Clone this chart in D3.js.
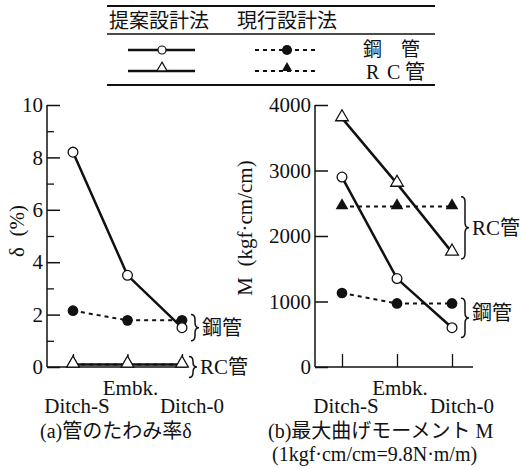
<!DOCTYPE html>
<html>
<head>
<meta charset="utf-8">
<script src="https://cdn.jsdelivr.net/npm/d3@7"></script>
<style>
  body { margin: 0; background: #fff; }
  text { font-family: "Liberation Serif", "Noto Sans CJK JP", serif; fill: #111; }
  text.cjk { font-family: "Noto Sans CJK JP", sans-serif; }
</style>
</head>
<body>
<script>
// categories (x axis)
var categories = ["Ditch-S", "Embk.", "Ditch-0"];

// (a) pipe deflection ratio delta (%)
var deltaSteelNew = [8.2, 3.5, 1.5];     // 提案設計法 鋼管
var deltaSteelOld = [2.15, 1.78, 1.78];  // 現行設計法 鋼管
var deltaRcNew = [0.1, 0.1, 0.1];        // 提案設計法 RC管
var deltaRcOld = [0.1, 0.1, 0.1];        // 現行設計法 RC管

// (b) max bending moment M (kgf·cm/cm)
var momentSteelNew = [2900, 1350, 600];
var momentSteelOld = [1130, 970, 970];
var momentRcNew = [3800, 2800, 1750];
var momentRcOld = [2450, 2450, 2450];

var deltaTicks = [0, 2, 4, 6, 8, 10];
var deltaMinorTicks = [1, 3, 5, 7, 9];
var momentTicks = [0, 1000, 2000, 3000, 4000];

var width = 521, height = 469;
var SERIF = "'Liberation Serif', 'Noto Sans CJK JP', serif";

var svg = d3.select("body").append("svg")
    .attr("width", width)
    .attr("height", height);

// ---------- legend table on top ----------
var leg = svg.append("g");
[6, 34, 85].forEach(function(y, i) {
    leg.append("line")
        .attr("x1", 107).attr("x2", 435)
        .attr("y1", y).attr("y2", y)
        .attr("stroke", "#111")
        .attr("stroke-width", i == 1 ? 1.3 : 1.8);
});
leg.append("text").attr("class", "cjk").attr("x", 109).attr("y", 28)
    .attr("font-size", 20).text("提案設計法");
leg.append("text").attr("class", "cjk").attr("x", 237).attr("y", 28)
    .attr("font-size", 20).text("現行設計法");

function legendRow(y, shape) {
    leg.append("line").attr("x1", 128).attr("x2", 195).attr("y1", y).attr("y2", y)
        .attr("stroke", "#111").attr("stroke-width", 2.5);
    leg.append("line").attr("x1", 255).attr("x2", 317).attr("y1", y).attr("y2", y)
        .attr("stroke", "#111").attr("stroke-width", 2).attr("stroke-dasharray", "4,4");
    var tri = shape == d3.symbolTriangle;
    var sym = d3.symbol().type(shape);
    var dy = tri ? -3 : 0;
    leg.append("path").attr("d", sym.size(tri ? 45 : 50)())
        .attr("transform", "translate(162," + (y + dy) + ")")
        .attr("fill", "#fff").attr("stroke", "#111").attr("stroke-width", 1.2);
    leg.append("path").attr("d", sym.size(tri ? 45 : 80)())
        .attr("transform", "translate(287," + (y + dy) + ")")
        .attr("fill", "#111");
}
legendRow(50, d3.symbolCircle);
legendRow(71, d3.symbolTriangle);
leg.append("text").attr("x", 363).attr("y", 56)
    .attr("font-size", 19).style("font-family", SERIF).text("鋼　管");
var rcText = leg.append("text").attr("y", 79).attr("font-size", 20).style("font-family", SERIF);
rcText.append("tspan").attr("x", 366).text("R");
rcText.append("tspan").attr("x", 387).text("C");
rcText.append("tspan").attr("x", 405).text("管");

// ---------- brace helper ----------
function brace(g, x, y1, y2) {
    var w = 8, q = 5, mid = (y1 + y2) / 2, h = x + w / 2;
    var p = "M" + x + "," + y1 +
        " Q" + h + "," + y1 + " " + h + "," + (y1 + q) +
        " L" + h + "," + (mid - q) +
        " Q" + h + "," + mid + " " + (x + w) + "," + mid +
        " Q" + h + "," + mid + " " + h + "," + (mid + q) +
        " L" + h + "," + (y2 - q) +
        " Q" + h + "," + y2 + " " + x + "," + y2;
    g.append("path").attr("d", p).attr("fill", "none")
        .attr("stroke", "#111").attr("stroke-width", 1.5);
}

// ---------- one panel ----------
function panel(opt) {
    var g = svg.append("g");
    var x = d3.scalePoint().domain(categories).range(opt.xRange);
    var y = d3.scaleLinear().domain(opt.yDomain).range([367, 105]);

    // y axis
    var yAxis = d3.axisLeft(y).tickValues(opt.yTicks).tickSize(-13).tickPadding(4)
        .tickFormat(d3.format("d"));
    var ya = g.append("g").attr("transform", "translate(" + opt.x0 + ",0)").call(yAxis);
    ya.attr("font-family", null);
    ya.select(".domain").remove();
    ya.selectAll("line").attr("stroke", "#111").attr("stroke-width", 1.5);
    ya.selectAll("text").attr("font-size", 21).attr("fill", "#111")
        .style("font-family", "'Liberation Serif', serif");
    if (opt.yMinor) {
        var ym = g.append("g").attr("transform", "translate(" + opt.x0 + ",0)")
            .call(d3.axisLeft(y).tickValues(opt.yMinor).tickSize(-7).tickFormat(""));
        ym.select(".domain").remove();
        ym.selectAll("line").attr("stroke", "#111").attr("stroke-width", 1.3);
    }
    g.append("line").attr("x1", opt.x0).attr("x2", opt.x0)
        .attr("y1", y(opt.yDomain[1])).attr("y2", y(0))
        .attr("stroke", "#111").attr("stroke-width", 1.5);

    // x axis
    var xa = g.append("g").attr("transform", "translate(0," + y(0) + ")")
        .call(d3.axisBottom(x).tickSize(-13).tickFormat(""));
    xa.select(".domain").remove();
    xa.selectAll("line").attr("stroke", "#111").attr("stroke-width", 1.3);
    g.append("line").attr("x1", opt.x0).attr("x2", opt.x1)
        .attr("y1", y(0)).attr("y2", y(0))
        .attr("stroke", "#111").attr("stroke-width", 1.5);

    var labelDx = [4, 3, 10];
    var labelY = [413, 395, 413];
    g.selectAll(".cat").data(categories).enter().append("text")
        .attr("x", function(d, i) { return x(d) + labelDx[i]; })
        .attr("y", function(d, i) { return labelY[i]; })
        .attr("text-anchor", "middle").attr("font-size", 21)
        .style("font-family", "'Liberation Serif', serif")
        .text(function(d) { return d; });

    // series
    var line = d3.line()
        .x(function(d, i) { return x(categories[i]); })
        .y(function(d) { return y(d); });
    opt.series.forEach(function(s) {
        g.append("path").datum(s.values).attr("d", line)
            .attr("fill", "none").attr("stroke", "#111")
            .attr("stroke-width", s.dashed ? 2 : 2.5)
            .attr("stroke-dasharray", s.dashed ? "4,4" : null);
    });
    opt.series.forEach(function(s) {
        var tri = s.shape == "tri";
        var sym = d3.symbol().type(tri ? d3.symbolTriangle : d3.symbolCircle)
            .size(tri ? 70 : (s.dashed ? 90 : 75));
        g.selectAll(null).data(s.values).enter().append("path")
            .attr("d", sym())
            .attr("transform", function(d, i) {
                return "translate(" + x(categories[i]) + "," + (y(d) - (tri ? 1 : 0)) + ")";
            })
            .attr("fill", s.dashed ? "#111" : "#fff")
            .attr("stroke", "#111").attr("stroke-width", s.dashed ? 0 : 1.3);
    });

    // braces
    opt.braces.forEach(function(b) {
        brace(g, b.x, y(b.hi), y(b.lo));
        var t = g.append("text").attr("x", b.x + 11)
            .attr("y", (y(b.hi) + y(b.lo)) / 2 + b.dy + 7)
            .attr("font-size", 20).style("font-family", SERIF);
        if (b.label.indexOf("RC") == 0) {
            t.append("tspan").attr("font-size", 21).text("RC");
            t.append("tspan").text("管");
        } else {
            t.text(b.label);
        }
    });

    // axis title
    g.append("text")
        .attr("transform", "translate(" + opt.titleX + "," + opt.titleY + ") rotate(-90)")
        .attr("text-anchor", "middle").attr("dominant-baseline", "central")
        .attr("font-size", 21).attr("xml:space", "preserve")
        .style("font-family", "'Liberation Serif', serif")
        .text(opt.title);

    return g;
}

panel({
    x0: 47, x1: 187, xRange: [73, 182],
    yDomain: [0, 10], yTicks: deltaTicks, yMinor: deltaMinorTicks,
    title: "δ  (%)", titleX: 17, titleY: 231,
    series: [
        { values: deltaRcOld, dashed: true, shape: "tri" },
        { values: deltaRcNew, dashed: false, shape: "tri" },
        { values: deltaSteelOld, dashed: true, shape: "circle" },
        { values: deltaSteelNew, dashed: false, shape: "circle" }
    ],
    braces: [
        { label: "鋼管", x: 191, lo: 1.0, hi: 2.0, dy: 0 },
        { label: "RC管", x: 189, lo: -0.4, hi: 0.4, dy: 0 }
    ]
});

panel({
    x0: 315, x1: 473, xRange: [342, 452],
    yDomain: [0, 4000], yTicks: momentTicks, yMinor: null,
    title: "M  (kgf·cm/cm)", titleX: 245, titleY: 228,
    series: [
        { values: momentRcOld, dashed: true, shape: "tri" },
        { values: momentRcNew, dashed: false, shape: "tri" },
        { values: momentSteelOld, dashed: true, shape: "circle" },
        { values: momentSteelNew, dashed: false, shape: "circle" }
    ],
    braces: [
        { label: "RC管", x: 461, lo: 1650, hi: 2600, dy: 0 },
        { label: "鋼管", x: 461, lo: 450, hi: 1050, dy: -5 }
    ]
});

// captions
svg.append("text").attr("x", 40).attr("y", 438).attr("font-size", 20)
    .style("font-family", SERIF).text("(a)管のたわみ率δ");
svg.append("text").attr("x", 268).attr("y", 438).attr("font-size", 20)
    .style("font-family", SERIF).text("(b)最大曲げモーメント M");
svg.append("text").attr("x", 272).attr("y", 461).attr("font-size", 20)
    .style("font-family", SERIF).text("(1kgf·cm/cm=9.8N·m/m)");
</script>
</body>
</html>
